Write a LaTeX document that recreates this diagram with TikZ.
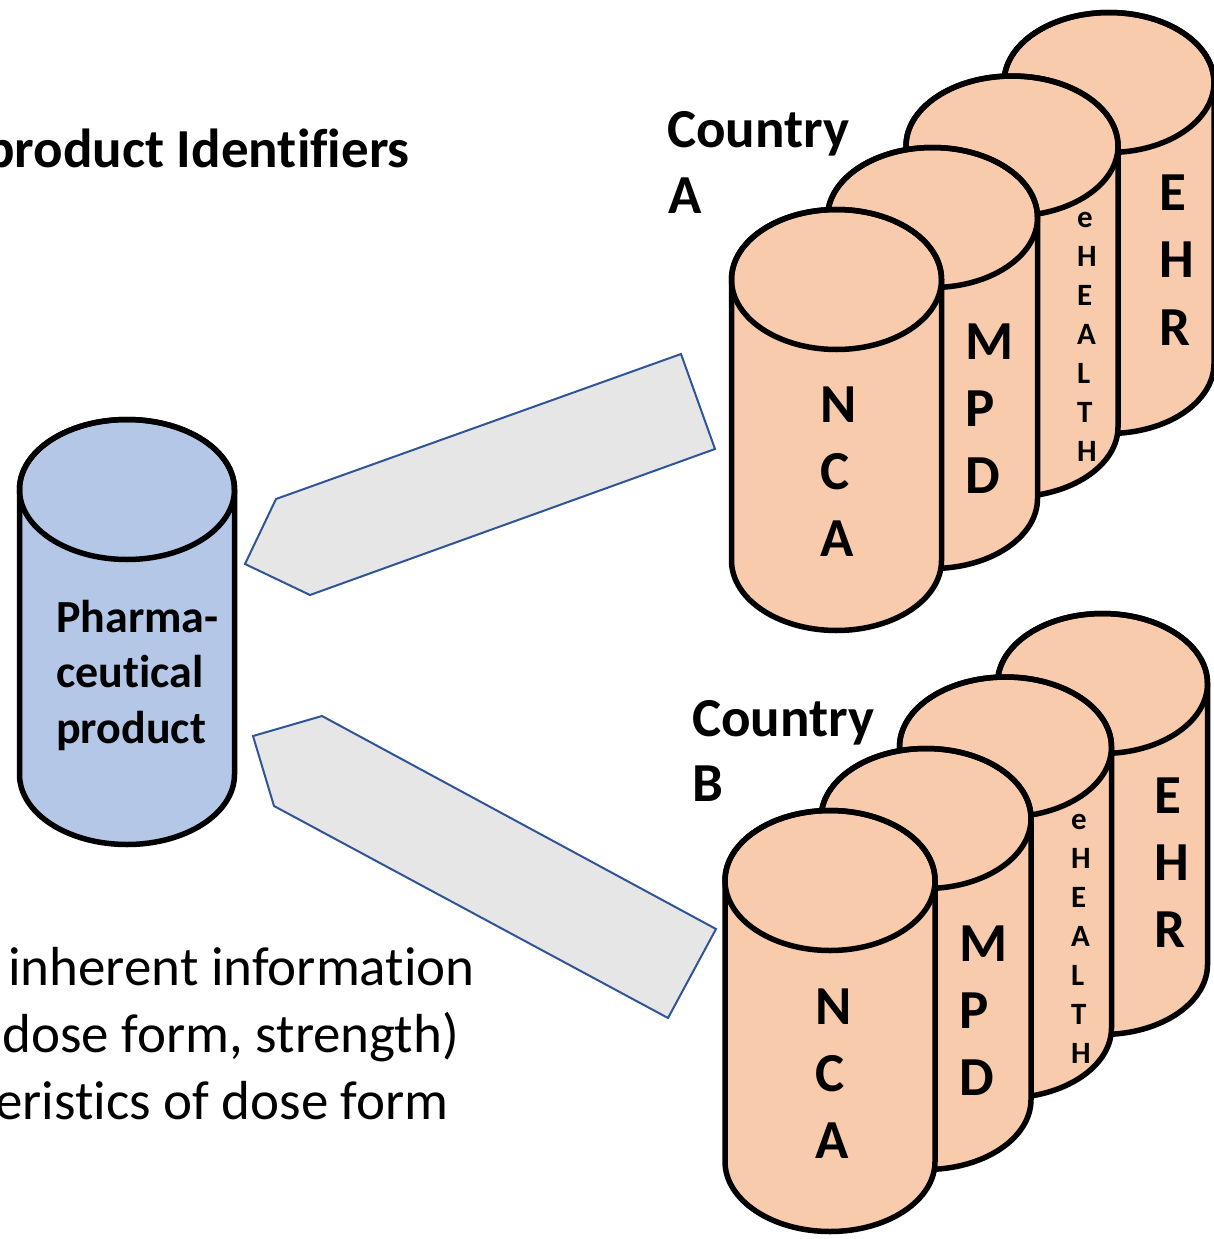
\documentclass[tikz,border=0pt]{standalone}
\usepackage{fontspec}
\setmainfont{Carlito}[Ligatures=NoCommon]

\definecolor{dbpeach}{HTML}{F8CBAD}
\definecolor{dbblue}{HTML}{B4C7E7}
\definecolor{flowfill}{HTML}{E7E6E6}
\definecolor{flowline}{HTML}{2F5597}

\tikzset{
  cyl/.style={line width=5.5pt, draw=black, line join=round},
  flow/.style={draw=flowline, fill=flowfill, line width=2pt, line join=miter},
  lbl/.style={inner sep=0pt, font=\fontsize{55}{67}\selectfont\bfseries},
  lblsmall/.style={inner sep=0pt, font=\fontsize{31}{39}\selectfont\bfseries},
  lblprod/.style={inner sep=0pt, font=\fontsize{46}{55}\selectfont\bfseries},
  bodytext/.style={inner sep=0pt, font=\fontsize{55}{67}\selectfont},
}

% database cylinder: centre x, top-centre y (downwards), x radius, y radius, body height, fill
\newcommand\dbcyl[6]{%
  \filldraw[cyl, fill=#6] ({#1-#3},{-#2}) -- ({#1-#3},{-#2-#5})
    arc[start angle=180, end angle=360, x radius=#3pt, y radius=#4pt]
    -- ({#1+#3},{-#2})
    arc[start angle=0, end angle=180, x radius=#3pt, y radius=#4pt] -- cycle;
  \draw[cyl] (#1,{-#2}) ellipse[x radius=#3pt, y radius=#4pt];
}

% letters stacked one per line: name, style, x, first baseline, line step, letters
\newcommand\vlabel[6]{%
  \foreach \ch [count=\k from 0] in {#6}
    \node[#2, anchor=base west] (#1-\k) at (#3, {-(#4+#5*\k)}) {\ch};
}

\begin{document}
\begin{tikzpicture}[x=1pt, y=1pt]
\path[use as bounding box] (0,0) rectangle (1214,-1239);
\clip (0,0) rectangle (1214,-1239);

% block arrows from the national databases to the product
\coordinate (fa1) at (681,-354);
\coordinate (fa2) at (715,-449);
\coordinate (fa3) at (310,-595);
\coordinate (fa4) at (245,-564);
\coordinate (fa5) at (276,-499);
\draw[flow] (fa1) -- (fa2) -- (fa3) -- (fa4) -- (fa5) -- cycle;

\coordinate (fb1) at (322,-716);
\coordinate (fb2) at (716,-929);
\coordinate (fb3) at (668,-1018);
\coordinate (fb4) at (274,-806);
\coordinate (fb5) at (253,-736);
\draw[flow] (fb1) -- (fb2) -- (fb3) -- (fb4) -- (fb5) -- cycle;

% pharmaceutical product database
\dbcyl{127}{489.5}{107.5}{70}{285}{dbblue}

% country A databases, back to front
\dbcyl{1109}{82.5}{105}{70}{281}{dbpeach}
\dbcyl{1012}{146}{106}{70}{281}{dbpeach}
\dbcyl{932.5}{217.5}{105}{70}{281}{dbpeach}
\dbcyl{836.5}{279.5}{105}{70}{281}{dbpeach}

% country B databases, back to front
\dbcyl{1102.5}{683.5}{105}{70}{281}{dbpeach}
\dbcyl{1005.5}{747}{106}{70}{281}{dbpeach}
\dbcyl{926}{818.5}{105}{70}{281}{dbpeach}
\dbcyl{830}{880.5}{105}{70}{281}{dbpeach}

% cylinder labels
\node[lblprod, anchor=base west] (ph1) at (56,-632) {Pharma-};
\node[lblprod, anchor=base west] (ph2) at (56,-687) {ceutical};
\node[lblprod, anchor=base west] (ph3) at (56,-743) {product};

\vlabel{ncaA}{lbl}{820}{422}{67}{N,C,A}
\vlabel{mpdA}{lbl}{965}{359}{67}{M,P,D}
\vlabel{ehA}{lblsmall}{1077}{227}{39}{e,H,E,A,L,T,H}
\vlabel{ehrA}{lbl}{1159}{210}{67.5}{E,H,R}

\vlabel{ncaB}{lbl}{815}{1024}{67}{N,C,A}
\vlabel{mpdB}{lbl}{959}{961}{67}{M,P,D}
\vlabel{ehB}{lblsmall}{1071}{829}{39}{e,H,E,A,L,T,H}
\vlabel{ehrB}{lbl}{1154}{813}{67}{E,H,R}

% country captions
\node[lbl, anchor=base west] (ctryA1) at (667,-147) {Country};
\node[lbl, anchor=base west] (ctryA2) at (668,-213) {A};
\node[lbl, anchor=base west] (ctryB1) at (692,-736) {Country};
\node[lbl, anchor=base west] (ctryB2) at (692,-801) {B};

% headline and notes
\node[lbl, anchor=base east] (title) at (410,-167) {product Identifiers};
\node[bodytext, anchor=base east] (note1) at (475,-985) {inherent information};
\node[bodytext, anchor=base east] (note2) at (459,-1052) {dose form, strength)};
\node[bodytext, anchor=base east] (note3) at (449,-1119) {eristics of dose form};
\end{tikzpicture}
\end{document}
